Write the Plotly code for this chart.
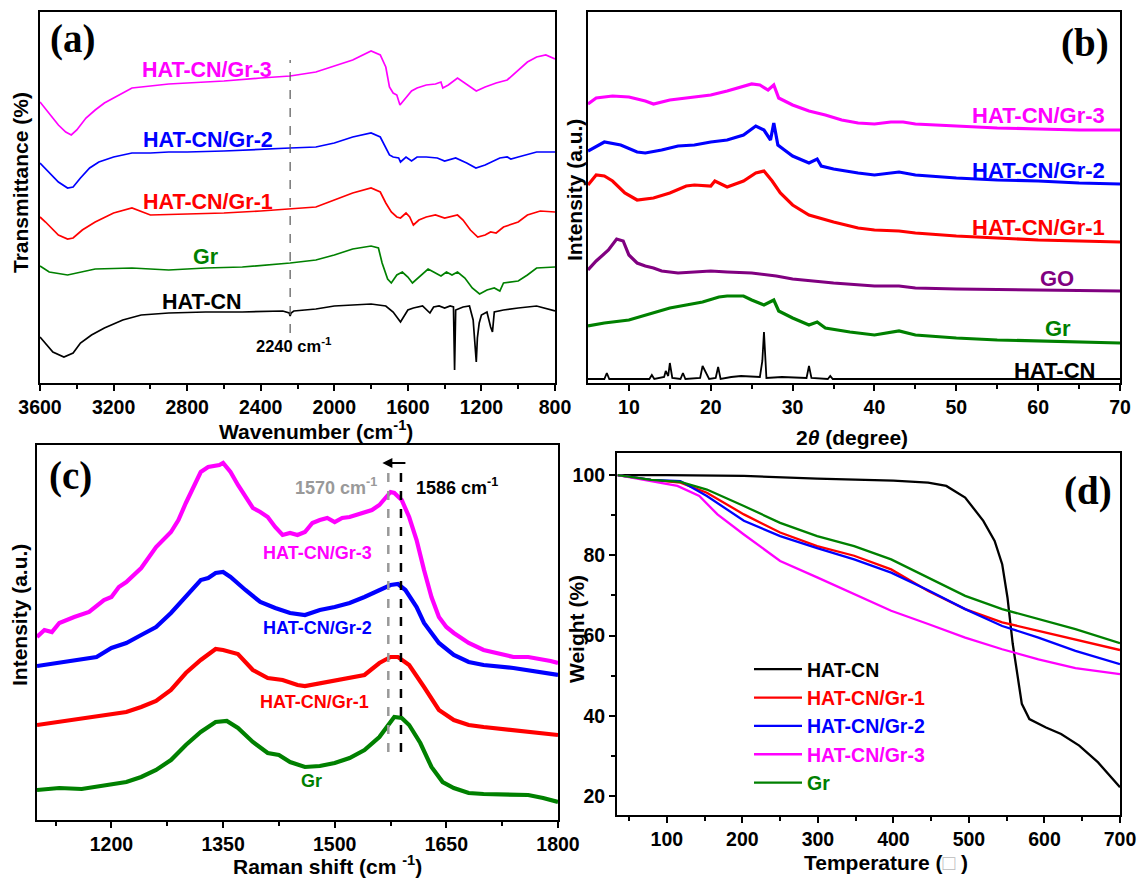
import plotly.graph_objects as go

W, H = 1137, 878

# ---------------- (a) FTIR (offset transmittance, arb. units) ----------------
a_gr3_x = [3600,3550,3500,3460,3430,3400,3350,3300,3250,3200,3150,3100,3050,3000,2900,2800,2600,2400,2240,2100,2000,1900,1800,1750,1720,1700,1680,1660,1643,1620,1600,1580,1550,1500,1450,1420,1410,1380,1330,1300,1260,1228,1180,1120,1060,1000,950,900,850,800]
a_gr3_y = [281,270,258,251,248,253,265,273,280,285,290,295,296,297,299,300,302,305,307,311,317,323,332,328,316,296,290,288,278,283,288,292,295,298,299,301,295,298,305,301,296,292,296,300,303,313,321,326,328,324]

a_gr2_x = [3600,3550,3500,3450,3420,3380,3330,3280,3200,3100,3000,2900,2800,2600,2400,2240,2100,2000,1900,1800,1750,1720,1700,1680,1650,1640,1610,1580,1550,1500,1440,1400,1340,1280,1230,1180,1100,1060,1040,1000,900,800]
a_gr2_y = [220,211,201,195,196,205,215,221,226,230,230,231,231,232,234,235,236,240,246,250,246,236,228,226,225,221,226,222,226,226,225,222,225,220,215,218,225,226,224,226,231,231]

a_gr1_x = [3600,3570,3500,3450,3420,3370,3300,3200,3100,3000,2800,2600,2400,2240,2100,2000,1900,1800,1750,1720,1690,1660,1640,1610,1590,1570,1540,1500,1450,1400,1330,1300,1260,1220,1180,1150,1120,1080,1000,950,880,800]
a_gr1_y = [166,161,148,144,145,153,161,170,175,168,169,170,172,174,176,183,190,195,191,180,171,166,165,170,166,158,163,166,168,165,168,163,153,146,148,151,150,156,161,168,172,171]

a_gr_x = [3600,3550,3450,3400,3300,3100,2900,2700,2500,2240,2100,2000,1900,1800,1760,1740,1710,1690,1660,1630,1600,1575,1540,1490,1460,1420,1390,1360,1330,1290,1250,1210,1170,1130,1100,1080,1000,950,900,800]
a_gr_y = [117,111,108,110,114,115,113,115,116,120,123,128,134,137,135,120,104,100,108,111,106,100,106,114,111,107,111,108,111,105,95,89,93,95,92,100,102,108,115,116]

a_hat_x = [3600,3570,3530,3470,3420,3380,3320,3250,3150,3050,2900,2700,2500,2280,2245,2240,2235,2220,2100,2000,1900,1800,1720,1680,1640,1600,1570,1520,1480,1460,1430,1400,1370,1352,1346,1340,1300,1265,1245,1234,1228,1222,1212,1200,1170,1150,1140,1130,1080,1000,900,800]
a_hat_y = [46,40,31,26,30,40,48,55,63,68,70,71,71,72,70,67,70,72,74,77,78,79,77,71,61,73,75,77,70,76,77,75,77,76,13,73,76,77,63,40,21,45,60,68,71,56,51,71,73,75,77,72]

# ---------------- (b) XRD (offset intensity, arb. units) ----------------
b_gr3_x = [5,6,8,10,12,13,15,17,20,22,24,25,26,27,27.7,28.3,30,32,34,36,38,40,42,43.5,45,50,55,60,65,70]
b_gr3_y = [277,283,285,284,280,277,281,283,286,290,295,297,296,291,296,283,276,270,266,261,258,257,259,259,257,255,253,252,251,251]

b_gr2_x = [5,7,9,11,12,14,16,18,20,22,24,25.5,26.5,27.3,27.7,28.2,29,30,32,33,33.5,35,38,40,43,45,50,55,60,65,70]
b_gr2_y = [230,239,236,229,228,231,235,236,239,241,246,255,251,241,258,236,231,225,218,222,215,212,208,206,209,206,203,201,200,198,197]

b_gr1_x = [5,6,7,8,9.5,11,13,15,17,18,20,20.5,22,24,25.5,26.5,27.5,28.5,30,32,35,38,40,43,45,50,55,60,65,70]
b_gr1_y = [196,206,205,200,188,181,183,188,195,196,195,200,194,200,208,210,200,188,176,166,159,153,151,150,148,145,143,141,140,139]

b_go_x = [5,6,7.5,8.5,9.3,10,11,12,13,14,16,18,20,22,25,28,30,35,40,43,45,50,60,70]
b_go_y = [111,120,131,142,140,126,118,115,113,110,108,109,110,109,108,105,102,98,95,95,93,92,91,90]

b_gr_x = [5,7,10,13,15,17,19,21,22,24,25,26.5,27.7,28.3,30,32,33,34,37,40,43,45,50,55,60,65,70]
b_gr_y = [55,58,61,68,73,76,79,84,85,85,81,76,81,70,63,56,59,53,49,46,50,46,43,41,40,39,38]

b_hat_x = [5,7.0,7.3,7.6,12.5,12.8,13.1,14.3,14.5,14.8,15.0,15.3,16.3,16.6,16.9,18.7,19.0,19.5,19.8,20.6,20.9,21.2,22.5,23.7,26.0,26.3,26.5,26.8,28.7,31.7,32.0,32.3,34.3,34.6,34.9,70]
b_hat_y = [2,2,8,2,2,6,2,4,10,5,18,3,2,8,2,3,15,6,2,3,14,2,4,5,4,20,49,3,4,3,15,3,2,5,2,2]

# ---------------- (c) Raman (offset intensity, arb. units) ----------------
c_gr3_x = [1100,1110,1120,1130,1150,1170,1190,1200,1210,1220,1240,1260,1280,1290,1300,1310,1320,1330,1345,1350,1360,1370,1380,1390,1400,1410,1420,1430,1440,1450,1460,1470,1480,1490,1500,1510,1520,1530,1540,1550,1560,1570,1575,1580,1590,1600,1610,1620,1630,1640,1650,1660,1670,1680,1700,1720,1740,1760,1780,1790,1800]
c_gr3_y = [183,190,188,197,203,208,220,223,233,238,252,273,288,300,317,333,348,353,355,357,348,335,323,312,308,303,293,285,287,285,288,297,300,302,298,302,303,305,308,310,315,323,328,327,320,303,280,250,223,203,193,187,182,177,170,167,163,163,161,159,157]

c_gr2_x = [1100,1130,1160,1180,1200,1220,1240,1260,1280,1300,1320,1330,1340,1350,1360,1380,1400,1420,1440,1460,1480,1500,1520,1540,1560,1575,1585,1595,1610,1620,1640,1660,1680,1700,1740,1770,1800]
c_gr2_y = [154,157,160,163,172,177,185,193,207,223,240,242,247,248,243,230,218,212,207,205,210,213,217,223,230,235,236,230,213,197,177,165,158,155,152,149,145]

c_gr1_x = [1100,1130,1160,1180,1200,1220,1240,1260,1280,1300,1320,1340,1350,1370,1390,1410,1430,1450,1460,1480,1500,1520,1540,1560,1575,1585,1600,1620,1640,1660,1680,1700,1740,1770,1800]
c_gr1_y = [95,98,101,103,105,108,113,119,130,147,160,171,170,166,150,142,140,135,134,137,140,143,145,157,163,163,155,133,110,100,95,93,90,88,85]

c_gr_x = [1100,1130,1160,1180,1200,1220,1240,1260,1280,1300,1320,1340,1355,1370,1390,1410,1425,1440,1460,1480,1500,1520,1540,1560,1580,1590,1600,1615,1630,1645,1660,1680,1700,1740,1760,1780,1800]
c_gr_y = [30,32,31,33,35,38,43,50,60,75,88,98,99,92,78,67,65,58,53,54,57,62,70,83,103,102,95,77,53,38,32,27,26,25,25,22,18]

# G-band marker positions (as drawn)
c_mark_x = [1572, 1589]

# ---------------- (d) TGA ----------------
d_hat_t = [35,100,202,299,400,446,470,495,519,534,544,551,558,563,570,580,602,622,646,671,700]
d_hat_w = [100,100,99.8,99.1,98.6,98.1,97.3,94.4,88.6,83.6,77.8,69.5,57.9,51.2,43,39.2,37.1,35.5,32.6,28.4,22.2]

d_gr1_t = [35,79,118,153,202,250,299,348,397,446,495,544,592,641,700]
d_gr1_w = [100,98.8,98.1,95.6,90.2,85.7,82.3,79.9,76.5,71.1,66.6,63.3,61.2,59.1,56.4]

d_gr2_t = [35,79,118,153,202,250,299,348,397,446,495,544,592,641,700]
d_gr2_w = [100,98.8,98.5,94.8,88.6,84.8,81.8,79.0,75.7,71.3,66.6,62.4,59.5,56.2,52.9]

d_gr3_t = [35,79,114,143,167,202,250,299,348,397,446,495,544,592,641,700]
d_gr3_w = [100,98.5,97.3,94.8,90.2,85.2,78.6,74.5,70.3,66.2,62.9,59.5,56.6,54.1,51.9,50.4]

d_gr_t = [35,79,118,153,202,250,299,348,397,446,495,544,592,641,700]
d_gr_w = [100,98.8,98.3,96.4,92.3,88.1,84.8,82.3,79.0,74.5,69.9,66.6,64.1,61.6,58.1]

MAG, BLU, RED, GRN, BLK, PUR = "#ff00ff", "#0000ff", "#ff0000", "#008000", "#000000", "#800080"
SANS = "Liberation Sans, Arial, sans-serif"
SERIF = "Liberation Serif, Times New Roman, serif"

fig = go.Figure()

def add(x, y, color, xa, ya, width, name, legend=False):
    fig.add_trace(go.Scatter(x=x, y=y, mode="lines", line=dict(color=color, width=width),
                             xaxis=xa, yaxis=ya, showlegend=legend,
                             name=name, hoverinfo="skip"))

# (a)
add(a_gr3_x, a_gr3_y, MAG, "x", "y", 1.7, "HAT-CN/Gr-3")
add(a_gr2_x, a_gr2_y, BLU, "x", "y", 1.7, "HAT-CN/Gr-2")
add(a_gr1_x, a_gr1_y, RED, "x", "y", 1.7, "HAT-CN/Gr-1")
add(a_gr_x, a_gr_y, GRN, "x", "y", 1.7, "Gr")
add(a_hat_x, a_hat_y, BLK, "x", "y", 1.7, "HAT-CN")
# (b)
add(b_gr3_x, b_gr3_y, MAG, "x2", "y2", 3.2, "HAT-CN/Gr-3")
add(b_gr2_x, b_gr2_y, BLU, "x2", "y2", 3.2, "HAT-CN/Gr-2")
add(b_gr1_x, b_gr1_y, RED, "x2", "y2", 3.2, "HAT-CN/Gr-1")
add(b_go_x, b_go_y, PUR, "x2", "y2", 3.2, "GO")
add(b_gr_x, b_gr_y, GRN, "x2", "y2", 3.2, "Gr")
add(b_hat_x, b_hat_y, BLK, "x2", "y2", 1.8, "HAT-CN")
# (c)
add(c_gr3_x, c_gr3_y, MAG, "x3", "y3", 4.2, "HAT-CN/Gr-3")
add(c_gr2_x, c_gr2_y, BLU, "x3", "y3", 4.2, "HAT-CN/Gr-2")
add(c_gr1_x, c_gr1_y, RED, "x3", "y3", 4.2, "HAT-CN/Gr-1")
add(c_gr_x, c_gr_y, GRN, "x3", "y3", 4.2, "Gr")
# (d)
def lg(txt, col):
    return f'<span style="color:{col}">{txt}</span>'
add(d_hat_t, d_hat_w, BLK, "x4", "y4", 2.3, lg("HAT-CN", BLK), True)
add(d_gr1_t, d_gr1_w, RED, "x4", "y4", 2.3, lg("HAT-CN/Gr-1", RED), True)
add(d_gr2_t, d_gr2_w, BLU, "x4", "y4", 2.3, lg("HAT-CN/Gr-2", BLU), True)
add(d_gr3_t, d_gr3_w, MAG, "x4", "y4", 2.3, lg("HAT-CN/Gr-3", MAG), True)
add(d_gr_t, d_gr_w, GRN, "x4", "y4", 2.3, lg("Gr", GRN), True)

def px(x): return x / W
def py(y): return 1 - y / H

tickfont = dict(family=SANS, size=19.5, color="black", weight="bold")
base = dict(showline=True, linecolor="black", linewidth=2, mirror=True, showgrid=False,
            zeroline=False, ticks="outside", ticklen=6, tickwidth=2, tickcolor="black",
            tickfont=tickfont, automargin=False)
noy = dict(showline=True, linecolor="black", linewidth=2, mirror=True, showgrid=False,
           zeroline=False, ticks="", showticklabels=False, automargin=False)
mn = dict(ticks="outside", ticklen=4, tickwidth=2, tickcolor="black")

fig.update_layout(
    width=W, height=H, margin=dict(l=0, r=0, t=0, b=0, autoexpand=False),
    paper_bgcolor="white", plot_bgcolor="white", hovermode=False,
    xaxis=dict(base, domain=[px(40), px(555)], range=[3600, 800], tickmode="array",
               tickvals=[3600,3200,2800,2400,2000,1600,1200,800],
               minor=dict(mn, tickvals=[3400,3000,2600,2200,1800,1400,1000]), anchor="y"),
    yaxis=dict(noy, domain=[py(383), py(12)], range=[0, 371], anchor="x"),
    xaxis2=dict(base, domain=[px(588), px(1120)], range=[5, 70], tickmode="array",
                tickvals=[10,20,30,40,50,60,70],
                minor=dict(mn, tickvals=[15,25,35,45,55,65]), anchor="y2"),
    yaxis2=dict(noy, domain=[py(383), py(12)], range=[-2, 369], anchor="x2"),
    xaxis3=dict(base, domain=[px(37), px(558)], range=[1100, 1800], tickmode="array",
                tickvals=[1200,1350,1500,1650,1800],
                minor=dict(mn, tickvals=[1125,1275,1425,1575,1725]), anchor="y3"),
    yaxis3=dict(noy, domain=[py(820), py(445)], range=[0, 375], anchor="x3"),
    xaxis4=dict(base, domain=[px(617), px(1120)], range=[34, 700], tickmode="array",
                tickvals=[100,200,300,400,500,600,700],
                minor=dict(mn, tickvals=[50,150,250,350,450,550,650]), anchor="y4"),
    yaxis4=dict(base, domain=[py(815), py(453)], range=[15.3, 105.5], tickmode="array",
                tickvals=[20,40,60,80,100],
                minor=dict(mn, tickvals=[30,50,70,90]), anchor="x4"),
    legend=dict(x=px(749), y=py(650), xanchor="left", yanchor="top",
                bgcolor="rgba(0,0,0,0)", font=dict(family=SANS, size=19.5, weight="bold"),
                itemwidth=48, tracegroupgap=0),
)

ann = []
def text(x, y, t, size, color="black", family=SANS, bold=True, xanchor="center"):
    ann.append(dict(x=px(x), y=py(y), xref="paper", yref="paper", text=t, showarrow=False,
                    xanchor=xanchor, yanchor="middle",
                    font=dict(family=family, size=size, color=color,
                              weight="bold" if bold else "normal")))

# panel letters
text(72, 39, "(a)", 39, family=SERIF)
text(1085, 43, "(b)", 39, family=SERIF)
text(70, 476, "(c)", 39, family=SERIF)
text(1088, 491, "(d)", 39, family=SERIF)

# axis titles
text(316, 430, "Wavenumber (cm<sup>-1</sup>)", 21)
text(852, 437, "2<i>θ</i> (degree)", 21)
text(327, 865, "Raman shift (cm <sup>-1</sup>)", 21)
text(886, 862, 'Temperature (<span style="color:#bbbbbb">□</span> )', 21)
for (x, y, t) in [(20, 183, "Transmittance (%)"), (574, 190, "Intensity (a.u.)"),
                  (19, 615, "Intensity (a.u.)"), (576, 629, "Weight (%)")]:
    ann.append(dict(x=px(x), y=py(y), xref="paper", yref="paper", text=t, showarrow=False,
                    textangle=-90, xanchor="center", yanchor="middle",
                    font=dict(family=SANS, size=21, color="black", weight="bold")))

# (a) labels
text(207, 70, "HAT-CN/Gr-3", 21.5, MAG)
text(208, 140, "HAT-CN/Gr-2", 21.5, BLU)
text(208, 202, "HAT-CN/Gr-1", 21.5, RED)
text(206, 257, "Gr", 21.5, GRN)
text(202, 302, "HAT-CN", 21.5, BLK)
text(294, 345, "2240 cm<sup>-1</sup>", 16.5, BLK)
# (b) labels
text(1107, 115, "HAT-CN/Gr-3", 22, MAG, xanchor="right")
text(1107, 170, "HAT-CN/Gr-2", 22, BLU, xanchor="right")
text(1107, 228, "HAT-CN/Gr-1", 22, RED, xanchor="right")
text(1057, 278, "GO", 22, PUR)
text(1058, 328, "Gr", 22, GRN)
text(1054, 370, "HAT-CN", 22, BLK)
# (c) labels
text(317, 553, "HAT-CN/Gr-3", 18, MAG)
text(317, 628, "HAT-CN/Gr-2", 18, BLU)
text(314, 702, "HAT-CN/Gr-1", 18, RED)
text(311, 781, "Gr", 18, GRN)
text(336, 487, "1570 cm<sup>-1</sup>", 18, "#999999")
text(457, 487, "1586 cm<sup>-1</sup>", 18, BLK)

# arrow in (c)
ann.append(dict(x=1564, y=357, ax=1597, ay=357, xref="x3", yref="y3", axref="x3", ayref="y3",
                text="", showarrow=True, arrowhead=2, arrowsize=1, arrowwidth=2,
                arrowcolor="black"))

fig.update_layout(annotations=ann)

shapes = [
    dict(type="line", xref="x", yref="y", x0=2240, x1=2240, y0=50, y1=323,
         line=dict(color="#555555", width=1.2, dash="dash")),
    dict(type="line", xref="x3", yref="y3", x0=c_mark_x[0], x1=c_mark_x[0], y0=68, y1=352,
         line=dict(color="#999999", width=2.5, dash="dash")),
    dict(type="line", xref="x3", yref="y3", x0=c_mark_x[1], x1=c_mark_x[1], y0=68, y1=352,
         line=dict(color="#000000", width=2.5, dash="dash")),
]
fig.update_layout(shapes=shapes)

fig.write_html("out.html", config={"displayModeBar": False},
               post_script="document.body.style.margin='0';document.body.style.overflow='hidden';")
